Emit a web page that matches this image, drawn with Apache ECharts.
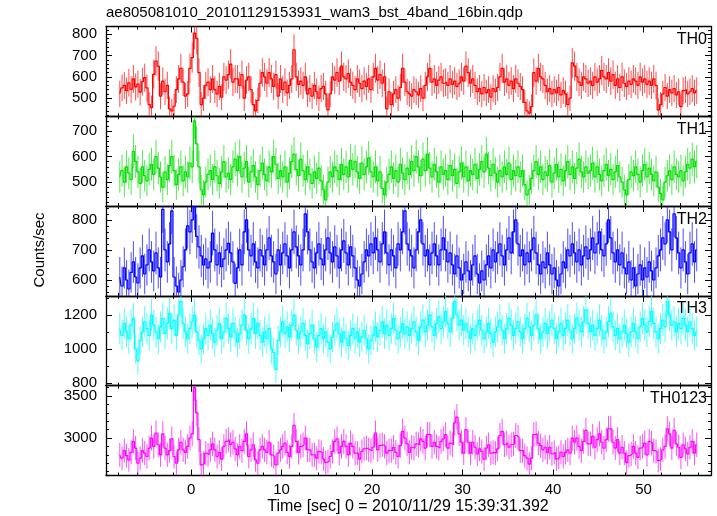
<!DOCTYPE html>
<html>
<head>
<meta charset="utf-8">
<script src="https://cdn.jsdelivr.net/npm/echarts@6/dist/echarts.min.js"></script>
<style>html,body{margin:0;padding:0;background:#fff}#chart{width:717px;height:516px}</style>
</head>
<body>
<div id="chart"></div>
<script>
// ---- data (count rates, counts/sec), 0.25 s bins starting at t = -8 s ----
const binStart = -8;
const binWidth = 0.25;
const errScale = 1.35; // estimated dead-time/background factor on Poisson error
const panelNames = ['TH0', 'TH1', 'TH2', 'TH3', 'TH0123'];

const th0 = [
 520,548,560,535,572,541,590,553,566,528,577,596,548,470,455,612,
 674,650,509,580,530,560,450,440,462,540,590,640,575,510,520,640,
 690,805,780,620,470,500,560,575,540,590,540,520,555,505,600,585,
 610,660,575,590,590,560,610,500,585,600,540,470,440,490,570,620,
 600,570,620,590,555,610,510,590,540,575,525,560,590,727,600,565,
 580,560,600,520,545,510,560,530,500,545,555,520,445,520,600,585,
 620,580,650,600,590,615,575,560,540,590,570,545,580,555,590,540,
 600,640,585,610,570,600,450,530,470,520,540,500,550,640,575,530,
 520,510,540,530,515,545,500,560,600,640,575,590,560,585,600,570,
 575,560,590,565,580,555,570,600,580,650,620,570,590,560,530,545,
 520,550,525,540,505,545,530,550,600,640,575,590,560,580,545,590,
 570,555,540,480,440,430,460,620,580,640,600,590,560,530,545,520,
 540,525,550,515,535,520,470,500,665,650,600,575,560,600,590,570,
 580,560,600,575,590,630,600,590,620,580,610,560,590,550,600,570,
 555,580,565,590,580,560,600,575,590,565,580,560,590,560,445,470,
 520,550,510,540,525,545,515,530,460,535,540,520,530,545,525,535
];
const th1 = [
 520,545,500,560,535,510,620,580,540,495,560,525,505,550,570,530,
 600,555,520,480,540,510,565,600,545,490,530,560,505,540,520,575,
 560,740,650,560,470,450,500,530,545,510,560,525,495,540,580,520,
 535,510,560,590,545,600,520,555,580,500,540,565,520,490,545,575,
 530,505,560,540,600,570,515,545,520,560,500,535,580,610,550,525,
 590,545,510,560,530,495,540,515,555,505,470,430,500,540,520,560,
 545,510,570,530,560,520,585,550,580,540,515,575,530,560,595,540,
 520,560,505,540,475,450,500,530,560,515,545,500,570,535,510,555,
 530,580,545,600,560,525,590,545,610,555,520,570,540,500,560,530,
 545,510,565,525,550,495,540,575,520,560,505,545,530,570,515,550,
 580,540,610,555,525,570,535,500,545,520,560,530,575,510,545,525,
 560,520,545,490,450,470,515,545,580,530,560,510,540,525,565,500,
 535,570,520,550,505,545,580,530,560,515,555,590,540,520,560,535,
 545,575,520,560,530,505,545,570,525,550,510,540,565,520,500,470,
 450,510,540,525,560,530,500,545,570,520,555,530,505,540,480,455,
 430,500,525,545,510,560,530,520,545,505,540,570,555,590,560,580
];
const th2 = [
 610,580,640,600,570,625,660,610,590,640,680,620,650,700,660,630,
 690,640,610,835,700,660,720,830,610,580,560,600,644,700,780,760,
 800,845,745,710,680,650,670,640,660,756,700,650,690,644,670,700,
 722,690,660,589,640,700,650,760,800,700,680,720,660,640,700,680,
 650,700,740,680,660,620,700,650,690,720,680,640,700,760,710,680,
 650,700,820,760,700,660,640,690,720,670,650,700,740,690,660,710,
 680,640,700,730,690,650,710,680,640,600,580,620,660,700,680,720,
 690,740,700,660,720,760,690,650,700,680,640,720,700,760,830,720,
 700,680,640,700,760,800,720,680,700,650,690,720,680,650,700,740,
 700,660,690,650,620,680,640,600,620,660,630,600,650,680,620,590,
 630,600,650,680,640,700,660,690,720,680,650,700,740,690,760,800,
 720,680,700,650,690,660,700,740,690,650,620,660,640,690,650,620,
 640,600,580,620,660,640,700,680,720,690,660,700,650,680,710,670,
 700,740,690,720,760,700,680,720,800,740,690,660,700,650,690,640,
 620,660,600,640,580,620,650,600,640,610,660,630,600,640,680,700,
 740,720,800,760,700,820,740,690,640,700,660,620,690,720,660,700
];
const th3 = [
 1120,1080,1150,1100,1060,1140,1180,1000,930,1050,1100,1160,1120,1080,1200,1140,
 1100,1060,1130,1180,1090,1150,1210,1120,1170,1080,1200,1280,1150,1100,1060,1120,
 1160,1200,1100,1050,1000,1060,1120,1080,1140,1090,1040,1110,1150,1060,1100,1180,
 1120,1070,1150,1100,1040,1090,1140,1200,1110,1060,1120,1180,1090,1150,1080,1040,
 1100,1060,1120,1000,980,880,1050,1100,1160,1090,1130,1070,1140,1200,1110,1060,
 1100,1150,1080,1030,1090,1140,1060,1010,1080,1120,1060,1100,1040,1000,1070,1110,
 1150,1090,1040,1100,1060,1020,1080,1120,1060,1100,1040,1070,1110,1060,1000,1050,
 1080,1130,1070,1110,1160,1090,1140,1080,1120,1180,1110,1060,1100,1150,1090,1130,
 1080,1120,1160,1100,1050,1130,1170,1100,1140,1200,1130,1080,1150,1190,1120,1160,
 1220,1150,1100,1180,1280,1200,1140,1170,1110,1150,1100,1060,1120,1080,1140,1170,
 1110,1060,1100,1150,1090,1040,1100,1130,1170,1110,1060,1120,1180,1140,1080,1120,
 1160,1100,1060,1120,1180,1130,1080,1140,1200,1120,1060,1100,1150,1090,1130,1170,
 1120,1060,1100,1150,1080,1120,1170,1110,1060,1120,1180,1140,1100,1160,1230,1150,
 1100,1140,1080,1120,1170,1110,1060,1100,1160,1210,1130,1080,1120,1060,1100,1140,
 1090,1040,1100,1150,1100,1060,1130,1180,1140,1100,1160,1220,1150,1100,1060,1120,
 1170,1130,1280,1200,1140,1160,1100,1150,1120,1180,1140,1100,1160,1120,1080,1100
];
const th0123 = [
 2800,2760,2850,2790,2740,2830,2960,2880,2700,2760,2850,2820,2780,2880,3000,2900,
 3060,2920,2800,3050,2880,2800,2850,2990,2780,2700,2860,2950,2860,2830,2900,3000,
 3050,3600,3300,2980,2680,2700,2820,2800,2860,2930,2860,2780,2830,2750,2900,2960,
 2980,2920,2950,2870,2800,2900,2850,2960,3050,2780,2860,2920,2740,2700,2860,2900,
 2860,2830,2950,2800,2780,2680,2820,2860,2900,2940,2830,2780,2900,3150,2960,2830,
 2900,2920,3000,2860,2860,2800,2800,2760,2840,2830,2750,2710,2720,2780,2840,2960,
 2990,2820,2900,2960,2900,2800,2940,2900,2820,2820,2750,2840,2870,2880,2860,2850,
 2890,3060,2860,2910,2920,2900,2820,2850,2850,2890,2830,2780,2910,3080,3000,2930,
 2830,2890,2880,2930,2920,2990,2960,2880,3040,3040,2900,2950,2900,2880,2960,2990,
 3040,2880,2940,2920,3180,3250,3050,2950,2820,3100,2950,2820,2950,2890,2810,2870,
 2840,2750,2880,2920,2820,2830,2820,2870,3030,3080,2920,2940,2890,2920,2930,3030,
 3010,2850,2850,2790,2760,2690,2760,3040,3050,2940,2910,2860,2890,2830,2890,2810,
 2830,2750,2770,2830,2780,2830,2860,2820,3000,2950,3000,2900,2850,2960,3090,2930,
 2930,3020,2890,2980,3050,2950,2880,2980,3110,3110,2950,2880,2980,2820,2890,2820,
 2710,2790,2810,2900,2820,2770,2880,2900,2940,2800,2960,2940,2850,2840,2730,2750,
 2860,2900,3110,3050,2880,3090,2930,2890,2770,2920,2870,2810,2890,2960,2820,2920
];
const seriesValues = [th0, th1, th2, th3, th0123];

// axis ranges and tick label steps per panel
const xRange = [-9.4, 57.45];
const xLabelStep = 10;
const yMin = [415, 406, 547, 784, 2554];
const yMax = [836, 758, 846, 1312, 3623];
const yLabelStep = [100, 100, 100, 200, 500];
const ySplit = [5, 4, 3, 3, 2];
const yMinorSplit = [5, 5, 5, 2, 5];

// ---- layout / style ----
const FONT = 'Liberation Sans, Arial, Helvetica, sans-serif';
const colors = ['#ff0000', '#00e000', '#0000ff', '#00ffff', '#ff00ff'];
const plotTop = 26.5, panelH = 89.8, plotLeft = 106, plotRight = 6;

const chart = echarts.init(document.getElementById('chart'), null, {renderer: 'canvas'});

const grids = [], xAxes = [], yAxes = [], series = [], graphics = [];
const axisLineStyle = {lineStyle: {color: '#000', width: 1.3}};

panelNames.forEach((name, i) => {
  const top = plotTop + i * panelH;
  grids.push({left: plotLeft, right: plotRight, top: top, height: panelH, containLabel: false});
  const isLast = i === panelNames.length - 1;
  const xBase = {
    type: 'value', gridIndex: i, min: xRange[0], max: xRange[1], splitNumber: 7,
    axisLine: Object.assign({show: true, onZero: false}, axisLineStyle),
    axisTick: {show: true, inside: true, length: 6, lineStyle: {color: '#000'}},
    minorTick: {show: true, splitNumber: 5, length: 3, lineStyle: {color: '#000'}},
    splitLine: {show: false}
  };
  xAxes.push(Object.assign({}, xBase, {
    position: 'bottom',
    axisLabel: {show: isLast, color: '#000', fontSize: 15, fontFamily: FONT, margin: 7,
      formatter: v => (Math.abs(v % xLabelStep) < 1e-6 ? String(v) : '')}
  }));
  xAxes.push(Object.assign({}, xBase, {position: 'top', axisLabel: {show: false}}));

  const yBase = {
    type: 'value', gridIndex: i, min: yMin[i], max: yMax[i], splitNumber: ySplit[i],
    axisLine: Object.assign({show: true, onZero: false}, axisLineStyle),
    axisTick: {show: true, inside: true, length: 6, lineStyle: {color: '#000'}},
    minorTick: {show: true, splitNumber: yMinorSplit[i], length: 3, lineStyle: {color: '#000'}},
    splitLine: {show: false}
  };
  const step = yLabelStep[i];
  yAxes.push(Object.assign({}, yBase, {
    position: 'left',
    axisLabel: {show: true, color: '#000', fontSize: 15, fontFamily: FONT, margin: 9,
      formatter: v => (Math.abs(v % step) < 1e-6 ? String(v) : '')}
  }));
  yAxes.push(Object.assign({}, yBase, {position: 'right', axisLabel: {show: false}}));

  const vals = seriesValues[i];
  const pts = vals.map((v, k) => [binStart + binWidth * (k + 0.5), v]);
  const errPts = vals.map((v, k) => [binStart + binWidth * (k + 0.5), v, errScale * Math.sqrt(v / binWidth)]);
  const col = colors[i];

  series.push({
    type: 'line', name: name, xAxisIndex: 2 * i, yAxisIndex: 2 * i,
    data: pts, step: 'middle', showSymbol: false, symbol: 'none', clip: true,
    lineStyle: {color: col, width: 1.2}, animation: false, silent: true
  });
  series.push({
    type: 'custom', name: name + ' err', xAxisIndex: 2 * i, yAxisIndex: 2 * i,
    data: errPts, clip: true, animation: false, silent: true,
    encode: {x: 0, y: 1},
    renderItem: (params, api) => {
      const x = api.value(0), y = api.value(1), e = api.value(2);
      const p1 = api.coord([x, y - e]);
      const p2 = api.coord([x, y + e]);
      return {type: 'line', shape: {x1: p1[0], y1: p1[1], x2: p2[0], y2: p2[1]},
        style: {stroke: col, lineWidth: 1, opacity: 0.7}};
    }
  });

  graphics.push({
    type: 'text', right: 10, top: top + 5,
    style: {text: name, font: '16px ' + FONT, fill: '#000'}
  });
});

graphics.push({
  type: 'text', left: plotLeft, top: 5,
  style: {text: 'ae805081010_20101129153931_wam3_bst_4band_16bin.qdp', font: '15px ' + FONT, fill: '#000'}
});
graphics.push({
  type: 'text', x: 40, y: 250, rotation: Math.PI / 2,
  style: {text: 'Counts/sec', font: '15px ' + FONT, fill: '#000', align: 'center', verticalAlign: 'middle'}
});
graphics.push({
  type: 'text', x: 408, y: 507,
  style: {text: 'Time [sec] 0 = 2010/11/29 15:39:31.392', font: '16px ' + FONT, fill: '#000', align: 'center', verticalAlign: 'middle'}
});

chart.setOption({
  animation: false,
  backgroundColor: '#fff',
  grid: grids,
  xAxis: xAxes,
  yAxis: yAxes,
  series: series,
  graphic: graphics
});
</script>
</body>
</html>
